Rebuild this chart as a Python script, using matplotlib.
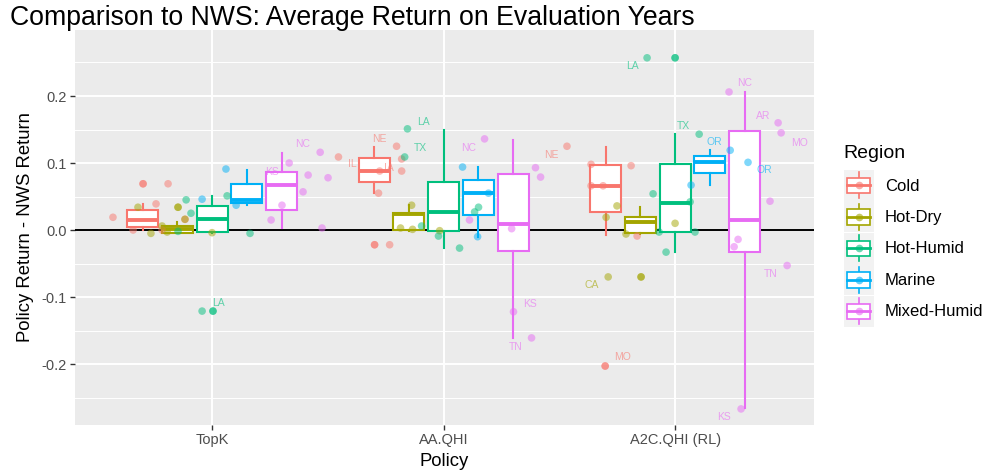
import matplotlib
matplotlib.use("Agg")
import matplotlib.pyplot as plt
from matplotlib.legend_handler import HandlerBase
from matplotlib.patches import Rectangle
from matplotlib.lines import Line2D

plt.rcParams['font.family'] = ['Liberation Sans', 'DejaVu Sans']

# ---------------- data ----------------
policies = ["TopK", "AA.QHI", "A2C.QHI (RL)"]
regions = ["Cold", "Hot-Dry", "Hot-Humid", "Marine", "Mixed-Humid"]
region_colors = ["#F8766D", "#A3A500", "#00BF7D", "#00B0F6", "#E76BF3"]

# box stats per policy, per region: [whisker_lo, q1, median, q3, whisker_hi]
box_topk = [[0.000, 0.005, 0.015, 0.030, 0.039],
            [-0.005, -0.004, 0.001, 0.006, 0.012],
            [-0.005, -0.003, 0.016, 0.036, 0.051],
            [0.037, 0.040, 0.045, 0.069, 0.090],
            [0.003, 0.030, 0.067, 0.087, 0.115]]
box_aa = [[0.055, 0.072, 0.088, 0.107, 0.124],
          [-0.002, 0.000, 0.024, 0.026, 0.037],
          [-0.027, -0.002, 0.027, 0.072, 0.149],
          [-0.010, 0.022, 0.055, 0.075, 0.094],
          [-0.161, -0.031, 0.009, 0.084, 0.134]]
box_a2c = [[-0.007, 0.027, 0.066, 0.097, 0.124],
           [-0.006, -0.004, 0.012, 0.019, 0.034],
           [-0.033, -0.003, 0.040, 0.099, 0.143],
           [0.067, 0.085, 0.101, 0.110, 0.119],
           [-0.266, -0.033, 0.015, 0.148, 0.206]]
box_stats = [box_topk, box_aa, box_a2c]

# jittered state points: region index, jitter offset (category units), value
topk_region = [0, 0, 0, 0, 0, 0, 0, 0,
               1, 1, 1, 1, 1, 1, 1, 1,
               2, 2, 2, 2, 2, 2, 2, 2,
               3, 3, 3,
               4, 4, 4, 4, 4, 4, 4, 4]
topk_jitter = [-0.428, -0.298, -0.298, -0.190, -0.242, -0.341, -0.216, -0.117,
               -0.117, -0.320, -0.147, -0.147, -0.264, -0.194, -0.216, 0.000,
               -0.112, -0.091, -0.147, 0.065, 0.164, -0.043, 0.004, 0.004,
               -0.043, 0.060, 0.104,
               0.255, 0.302, 0.333, 0.393, 0.415, 0.467, 0.501, 0.475]
topk_value = [0.019, 0.069, 0.069, 0.069, 0.039, 0.000, 0.000, 0.016,
              0.016, 0.034, 0.034, 0.034, -0.005, -0.003, 0.006, -0.004,
              0.045, 0.025, -0.002, 0.051, -0.005, -0.121, -0.121, -0.121,
              0.046, 0.091, 0.037,
              0.015, 0.037, 0.100, 0.057, 0.082, 0.116, 0.078, 0.003]

aa_region = [0, 0, 0, 0, 0, 0, 0, 0, 0,
             1, 1, 1, 1,
             2, 2, 2, 2, 2, 2, 2,
             3, 3, 3,
             4, 4, 4, 4, 4, 4, 4]
aa_jitter = [-0.454, -0.203, -0.181, -0.181, -0.276, -0.281, -0.298, -0.298, -0.233,
             -0.138, -0.186, -0.134, -0.017,
             -0.156, -0.168, -0.095, -0.022, 0.069, 0.151, 0.134,
             0.082, 0.194, 0.147,
             0.177, 0.112, 0.294, 0.397, 0.419, 0.302, 0.380]
aa_value = [0.109, 0.125, 0.106, 0.088, 0.088, 0.055, -0.022, -0.022, -0.022,
            0.037, 0.003, 0.001, -0.001,
            0.151, 0.109, 0.006, -0.009, -0.027, 0.034, 0.027,
            0.094, 0.055, -0.010,
            0.136, 0.015, 0.002, 0.093, 0.079, -0.122, -0.161]

a2c_region = [0, 0, 0, 0, 0, 0, 0, 0,
              1, 1, 1, 1, 1, 1, 1,
              2, 2, 2, 2, 2, 2, 2, 2, 2,
              3, 3, 3,
              4, 4, 4, 4, 4, 4, 4, 4]
a2c_jitter = [-0.467, -0.363, -0.190, -0.363, -0.311, -0.164, -0.302, -0.302,
              -0.251, -0.298, -0.212, 0.000, -0.289, -0.147, -0.147,
              -0.095, -0.121, 0.000, 0.000, 0.104, 0.065, -0.069, 0.086, -0.039,
              0.069, 0.238, 0.315,
              0.233, 0.445, 0.458, 0.410, 0.272, 0.255, 0.484, 0.285]
a2c_value = [0.125, 0.098, 0.096, 0.066, 0.066, -0.009, -0.203, -0.203,
             0.036, 0.019, -0.006, 0.010, -0.070, -0.070, -0.070,
             0.054, 0.257, 0.257, 0.257, 0.143, 0.042, -0.003, -0.003, -0.033,
             0.067, 0.119, 0.101,
             0.206, 0.160, 0.145, 0.043, -0.014, -0.025, -0.053, -0.267]

point_regions = [topk_region, aa_region, a2c_region]
point_jitters = [topk_jitter, aa_jitter, a2c_jitter]
point_values = [topk_value, aa_value, a2c_value]

# state labels: policy index, region index, jitter offset, value, text
label_policy = [0, 0, 0,
                1, 1, 1, 1, 1, 1, 1, 1, 1,
                2, 2, 2, 2, 2, 2, 2, 2, 2, 2, 2]
label_region = [4, 4, 2,
                0, 0, 0, 2, 2, 4, 0, 4, 4,
                2, 2, 3, 3, 4, 4, 4, 1, 0, 4, 4]
label_jitter = [0.259, 0.393, 0.026,
                -0.276, -0.393, -0.238, -0.086, -0.099, 0.108, 0.467, 0.372, 0.311,
                -0.186, 0.035, 0.168, 0.384, 0.302, 0.380, 0.536, -0.359, -0.229, 0.415, 0.212]
label_value = [0.087, 0.128, -0.109,
               0.136, 0.099, 0.093, 0.161, 0.122, 0.122, 0.112, -0.110, -0.175,
               0.245, 0.155, 0.131, 0.090, 0.219, 0.170, 0.130, -0.082, -0.190, -0.066, -0.279]
label_text = ["KS", "NC", "LA",
              "NE", "IL", "IA", "LA", "TX", "NC", "NE", "KS", "TN",
              "LA", "TX", "OR", "OR", "NC", "AR", "MO", "CA", "MO", "TN", "KS"]

# ---------------- figure ----------------
W, H = 985, 476
fig = plt.figure(figsize=(W / 100, H / 100), dpi=100)
ax = fig.add_axes([75 / W, 1 - 425 / H, (814 - 75) / W, (425 - 30) / H])
ax.set_facecolor("#EBEBEB")
for s in ax.spines.values():
    s.set_visible(False)

ax.set_xlim(-0.592, 2.6)
ax.set_ylim(-0.291, 0.2985)

yt = [-0.2, -0.1, 0.0, 0.1, 0.2]
ax.set_yticks(yt)
ax.set_yticklabels(["-0.2", "-0.1", "0.0", "0.1", "0.2"])
ax.set_yticks([-0.25, -0.15, -0.05, 0.05, 0.15, 0.25], minor=True)
ax.set_xticks(range(len(policies)))
ax.set_xticklabels(policies)
ax.grid(True, which="major", color="white", linewidth=1.4, zorder=0)
ax.grid(True, which="minor", axis="y", color="white", linewidth=0.7, zorder=0)
ax.set_axisbelow(True)
ax.tick_params(axis="both", which="major", length=3.5, width=1.0, color="#333333",
               labelcolor="#4D4D4D", labelsize=10.5, pad=2.5)
ax.tick_params(axis="y", which="minor", length=0)

ax.axhline(0, color="black", linewidth=1.4, zorder=1)

nreg = len(regions)
slot = 0.15
bw = 0.134
for p in range(len(policies)):
    for r in range(nreg):
        st = box_stats[p][r]
        pos = p + (r - (nreg - 1) / 2) * slot
        stats = [dict(whislo=st[0], q1=st[1], med=st[2], q3=st[3], whishi=st[4], fliers=[])]
        c = region_colors[r]
        ax.bxp(stats, positions=[pos], widths=bw, patch_artist=True, showcaps=False,
               boxprops=dict(facecolor="white", edgecolor=c, linewidth=1.5),
               whiskerprops=dict(color=c, linewidth=1.5),
               medianprops=dict(color=c, linewidth=2.8, solid_capstyle="butt"),
               manage_ticks=False, zorder=2)

for p in range(len(policies)):
    xs = [p + j for j in point_jitters[p]]
    cs = [region_colors[r] for r in point_regions[p]]
    ax.scatter(xs, point_values[p], s=30, c=cs, alpha=0.5, linewidths=0, zorder=3)

for i in range(len(label_text)):
    ax.text(label_policy[i] + label_jitter[i], label_value[i], label_text[i],
            color=region_colors[label_region[i]], alpha=0.6, fontsize=7.5,
            ha="center", va="center", zorder=4)

ax.set_xlabel("Policy", fontsize=13.3, color="black", labelpad=4)
ax.set_ylabel("Policy Return - NWS Return", fontsize=13.3, color="black", labelpad=5)
fig.text(10 / W, 1 - 18 / H, "Comparison to NWS: Average Return on Evaluation Years",
         fontsize=19.2, ha="left", va="center")


# ---------------- legend ----------------
class BoxKeyHandler(HandlerBase):
    def create_artists(self, legend, orig_handle, xdescent, ydescent, width, height,
                       fontsize, trans):
        c = orig_handle.get_color()
        x0, y0 = -xdescent, -ydescent
        bg = Rectangle((x0, y0), width, height, facecolor="#F2F2F2", edgecolor="none",
                       transform=trans)
        xc = x0 + width / 2
        wl = Line2D([xc, xc], [y0 + 0.08 * height, y0 + 0.92 * height], color=c,
                    linewidth=1.2, transform=trans)
        bx = Rectangle((x0 + 0.12 * width, y0 + 0.25 * height), 0.76 * width, 0.5 * height,
                       facecolor="white", edgecolor=c, linewidth=1.2, transform=trans)
        md = Line2D([x0 + 0.12 * width, x0 + 0.88 * width], [y0 + 0.5 * height] * 2,
                    color=c, linewidth=2.0, transform=trans)
        pt = Line2D([xc], [y0 + 0.5 * height], marker="o", markersize=5.5, color=c,
                    alpha=0.6, markeredgewidth=0, linestyle="none", transform=trans)
        return [bg, wl, bx, md, pt]


handles = [Line2D([], [], color=c) for c in region_colors]
leg = fig.legend(handles, regions, title="Region", loc="upper left",
                 bbox_to_anchor=(832 / W, 1 - 133 / H), frameon=False,
                 handler_map={Line2D: BoxKeyHandler()}, fontsize=12.0,
                 title_fontsize=14, handlelength=1.8, handleheight=2.48,
                 labelspacing=0.03, handletextpad=0.66, borderpad=0.2)
leg._legend_box.align = "left"
leg._legend_box.sep = 6

fig.savefig("out.png", dpi=100)
